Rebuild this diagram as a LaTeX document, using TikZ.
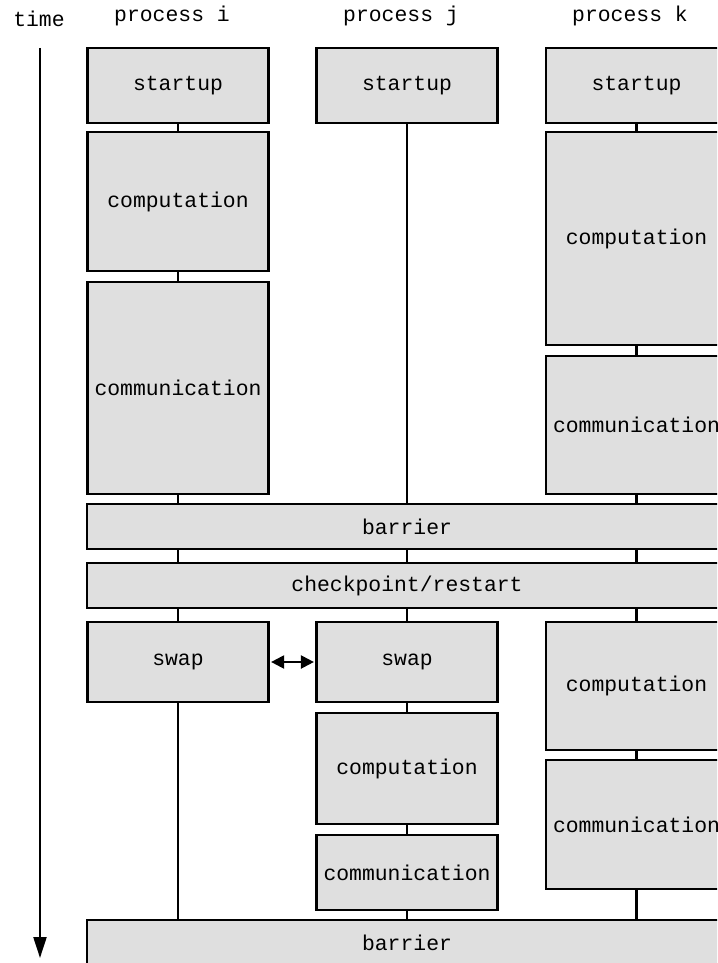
\documentclass[tikz,border=0pt]{standalone}
\usepackage{fontspec}
\setmonofont{Liberation Mono}
\usetikzlibrary{arrows.meta}
\begin{document}
\begin{tikzpicture}[x=1pt,y=-1pt,
  box/.style={draw=black, line width=2.6pt, fill=boxgray, rectangle, inner sep=0pt,
    minimum width=181pt, font=\fontsize{21.4}{24}\ttfamily},
  wide/.style={box, minimum width=640pt},
  lbl/.style={font=\fontsize{21.4}{24}\ttfamily, anchor=base, inner sep=0pt},
  conn/.style={line width=2.2pt}]
\definecolor{boxgray}{HTML}{DFDFDF}
\useasboundingbox (0,0) rectangle (717,963);
\clip (0,0) rectangle (717,963);
% labels
\node[lbl] (tl) at (39,27) {time};
\node[lbl] (pi) at (172,22) {process i};
\node[lbl] (pj) at (401,22) {process j};
\node[lbl] (pk) at (630,22) {process k};
% time arrow
\coordinate (t1) at (40,48);
\coordinate (t2) at (40,958);
\draw[line width=2.2pt, -{Triangle[length=21pt,width=13pt]}] (t1) -- (t2);
% column i
\node[box, minimum height=75pt]  (is)  at (178,85.5)  {startup};
\node[box, minimum height=139pt] (ic1) at (178,201.5) {computation};
\node[box, minimum height=212pt] (im1) at (178,388)   {communication};
% column j
\node[box, minimum height=75pt]  (js)  at (407,85.5)  {startup};
% column k
\node[box, minimum height=75pt]  (ks)  at (636.5,85.5)  {startup};
\node[box, minimum height=213pt] (kc1) at (636.5,238.5) {computation};
\node[box, minimum height=138pt] (km1) at (636.5,425)   {communication};
% barriers
\node[wide, minimum height=45pt] (b1) at (407,526.5) {barrier};
\node[wide, minimum height=45pt] (cp) at (407,585.5) {checkpoint/restart};
% second phase
\node[box, minimum height=80pt]  (swi) at (178,662)   {swap};
\node[box, minimum height=80pt]  (swj) at (407,662)   {swap};
\node[box, minimum height=111pt] (jc)  at (407,768.5) {computation};
\node[box, minimum height=75pt]  (jm)  at (407,872.5) {communication};
\node[box, minimum height=128pt] (kc2) at (636.5,686)   {computation};
\node[box, minimum height=129pt] (km2) at (636.5,824.5) {communication};
\node[wide, minimum height=46pt] (b2) at (407,943) {barrier};
% connectors
\draw[conn] (is.south) -- (ic1.north);
\draw[conn] (ic1.south) -- (im1.north);
\draw[conn] (im1.south) -- (im1.south |- b1.north);
\draw[conn] (js.south) -- (js.south |- b1.north);
\draw[conn] (ks.south) -- (kc1.north);
\draw[conn] (kc1.south) -- (km1.north);
\draw[conn] (km1.south) -- (km1.south |- b1.north);
\draw[conn] (im1.south |- b1.south) -- (im1.south |- cp.north);
\draw[conn] (js.south |- b1.south) -- (js.south |- cp.north);
\draw[conn] (km1.south |- b1.south) -- (km1.south |- cp.north);
\draw[conn] (swi.north |- cp.south) -- (swi.north);
\draw[conn] (swj.north |- cp.south) -- (swj.north);
\draw[conn] (kc2.north |- cp.south) -- (kc2.north);
\draw[conn] (swi.south) -- (swi.south |- b2.north);
\draw[conn] (swj.south) -- (jc.north);
\draw[conn] (jc.south) -- (jm.north);
\draw[conn] (jm.south) -- (jm.south |- b2.north);
\draw[conn] (kc2.south) -- (km2.north);
\draw[conn] (km2.south) -- (km2.south |- b2.north);
\draw[line width=2.2pt, {Triangle[length=13pt,width=13pt]}-{Triangle[length=13pt,width=13pt]}, shorten <=1.3pt, shorten >=1.3pt] (swi.east) -- (swj.west);
\end{tikzpicture}
\end{document}
